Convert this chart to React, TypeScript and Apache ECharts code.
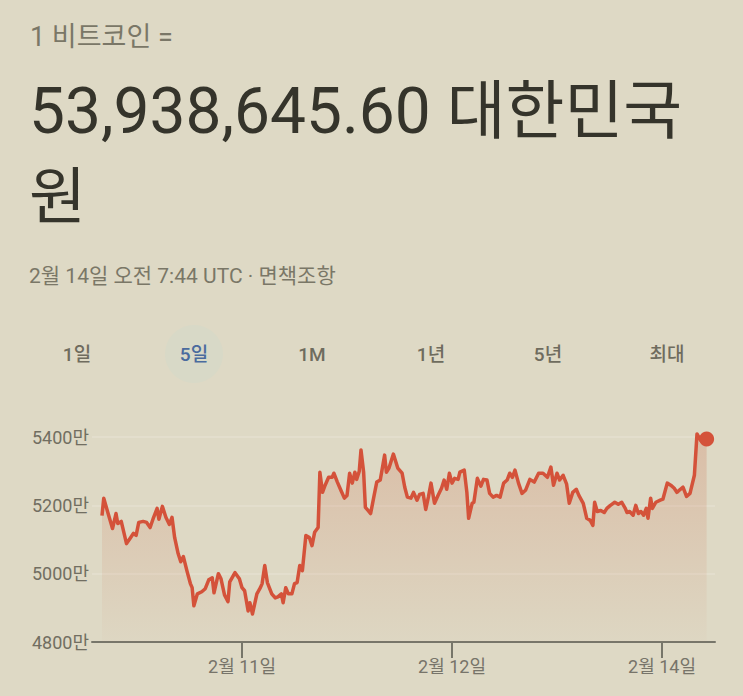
import React, { useEffect, useRef } from "react";
import * as echarts from "echarts";

// hours on a compressed session scale (2월 11일 = 24, 2월 12일 = 48, 2월 14일 = 72)
const times = [
  8.0, 8.2, 8.7, 9.2, 9.6, 9.8, 10.2, 10.8, 11.2, 11.6, 11.9, 12.2, 12.7, 13.1, 13.5, 13.9, 14.3, 14.5, 14.9, 15.3,
  15.7, 16.0, 16.3, 16.7, 17.0, 17.3, 17.7, 18.1, 18.3, 18.5, 18.9, 19.4, 19.8, 20.2, 20.6, 20.8, 21.3, 21.6, 22.0, 22.4,
  22.6, 23.2, 23.7, 24.0, 24.3, 24.7, 24.9, 25.2, 25.7, 26.1, 26.3, 26.6, 26.9, 27.4, 27.8, 28.1, 28.5, 28.7, 29.0, 29.3,
  29.7, 30.0, 30.3, 30.6, 30.9, 31.3, 31.7, 32.0, 32.3, 32.7, 32.9, 33.2, 33.5, 33.9, 34.3, 34.5, 34.9, 35.3, 35.7, 36.0,
  36.3, 36.6, 36.9, 37.1, 37.4, 37.6, 37.9, 38.1, 38.4, 38.7, 39.1, 39.4, 39.8, 40.3, 40.5, 40.8, 41.3, 41.8, 42.3, 42.6,
  42.9, 43.3, 43.6, 44.0, 44.3, 44.7, 45.0, 45.3, 45.6, 46.0, 46.4, 46.8, 47.1, 47.4, 47.7, 48.0, 48.3, 48.7, 48.9, 49.4,
  49.7, 49.9, 50.3, 50.5, 50.9, 51.3, 51.6, 52.0, 52.3, 52.7, 53.1, 53.5, 53.9, 54.3, 54.6, 54.9, 55.2, 55.6, 56.0, 56.4,
  56.9, 57.4, 57.9, 58.4, 58.9, 59.3, 59.6, 60.0, 60.3, 60.7, 61.1, 61.4, 61.8, 62.2, 62.5, 63.0, 63.4, 63.8, 64.1, 64.3,
  64.6, 65.0, 65.4, 65.7, 66.1, 66.6, 67.0, 67.4, 67.8, 68.0, 68.3, 68.7, 69.0, 69.3, 69.6, 69.9, 70.2, 70.4, 70.7, 70.9,
  71.3, 71.8, 72.1, 72.6, 73.0, 73.4, 73.7, 74.1, 74.4, 74.8, 75.2, 75.7, 76.0, 76.4, 76.8, 77.1,
];

// price in 만 원
const prices = [
  5170, 5221, 5176, 5132, 5176, 5147, 5153, 5088, 5103, 5118, 5112, 5150, 5153, 5150, 5135, 5165, 5191, 5159, 5197, 5165,
  5144, 5165, 5106, 5059, 5035, 5050, 5009, 4971, 4959, 4906, 4941, 4947, 4956, 4982, 4988, 4944, 5000, 4985, 4938, 4918,
  4976, 5003, 4985, 4959, 4950, 4891, 4915, 4882, 4941, 4959, 4971, 5024, 4974, 4941, 4929, 4932, 4941, 4915, 4959, 4941,
  4941, 4971, 4974, 5024, 5009, 5112, 5106, 5082, 5121, 5135, 5297, 5238, 5259, 5282, 5282, 5294, 5268, 5244, 5221, 5229,
  5294, 5265, 5297, 5276, 5300, 5362, 5297, 5194, 5185, 5176, 5229, 5268, 5274, 5347, 5297, 5309, 5350, 5309, 5294, 5253,
  5224, 5221, 5238, 5215, 5232, 5235, 5188, 5224, 5265, 5206, 5229, 5250, 5274, 5247, 5294, 5265, 5279, 5276, 5297, 5303,
  5238, 5162, 5206, 5209, 5279, 5256, 5276, 5274, 5235, 5224, 5229, 5224, 5265, 5274, 5294, 5282, 5303, 5265, 5235, 5244,
  5276, 5268, 5294, 5294, 5282, 5312, 5259, 5294, 5274, 5288, 5262, 5206, 5238, 5247, 5229, 5206, 5162, 5156, 5141, 5209,
  5182, 5185, 5179, 5191, 5200, 5209, 5203, 5209, 5191, 5179, 5182, 5171, 5200, 5176, 5182, 5171, 5191, 5162, 5221, 5191,
  5209, 5215, 5218, 5265, 5259, 5250, 5238, 5247, 5253, 5226, 5235, 5288, 5409, 5391, 5397, 5394,
];

const tickHours = [24, 48, 72];
const tickLabels = ["2월 11일", "2월 12일", "2월 14일"];
const yTicks = [4800, 5000, 5200, 5400];
const rangeTabs = ["1일", "5일", "1M", "1년", "5년", "최대"];
const selectedTab = "5일";

const headerLine = "1 비트코인 =";
const priceLine = "53,938,645.60 대한민국";
const priceLine2 = "원";
const dateLine = "2월 14일 오전 7:44 UTC · 면책조항";

const FONT = 'Roboto, "Noto Sans CJK KR", "Noto Sans", sans-serif';
const BG = "#ded9c5";
const LINE = "#d4523a";

export default function App() {
  const ref = useRef<HTMLDivElement>(null);

  useEffect(() => {
    if (!ref.current) return;
    const chart = echarts.init(ref.current, null, { renderer: "svg" });
    const data = times.map((t, i) => [t, prices[i]]);
    const last = data[data.length - 1];

    const tabX = [77, 194, 312, 431, 548, 667];
    const tabGraphics: any[] = [];
    rangeTabs.forEach((t, i) => {
      if (t === selectedTab) {
        tabGraphics.push({
          type: "circle",
          shape: { cx: tabX[i], cy: 354, r: 29 },
          style: { fill: "#d8d9c7" },
        });
      }
      tabGraphics.push({
        type: "text",
        x: tabX[i],
        y: 354,
        style: {
          text: t,
          font: `500 19px ${FONT}`,
          fill: t === selectedTab ? "#4a6b9e" : "#6f6c5e",
          textAlign: "center",
          textVerticalAlign: "middle",
        },
      });
    });

    chart.setOption({
      animation: false,
      backgroundColor: BG,
      textStyle: { fontFamily: FONT },
      graphic: [
        {
          type: "text",
          x: 30,
          y: 37,
          style: { text: headerLine, font: `27px ${FONT}`, fill: "#7a7767", textVerticalAlign: "middle" },
        },
        {
          type: "text",
          x: 29,
          y: 111,
          style: { text: priceLine, font: `64px ${FONT}`, fill: "#35342b", textVerticalAlign: "middle" },
        },
        {
          type: "text",
          x: 29,
          y: 197,
          style: { text: priceLine2, font: `62px ${FONT}`, fill: "#35342b", textVerticalAlign: "middle" },
        },
        {
          type: "text",
          x: 29,
          y: 276,
          style: { text: dateLine, font: `21px ${FONT}`, fill: "#7a7767", textVerticalAlign: "middle" },
        },
        ...tabGraphics,
      ],
      grid: { left: 92, right: 28, top: 437, bottom: 54, containLabel: false },
      xAxis: {
        type: "value",
        min: 24 - 150 / 8.75,
        max: 24 + 473 / 8.75,
        axisLine: { show: true, lineStyle: { color: "#77766a", width: 2 } },
        axisTick: {
          show: true,
          customValues: tickHours,
          length: 16,
          lineStyle: { color: "#77766a", width: 2 },
        },
        axisLabel: {
          customValues: tickHours,
          formatter: (v: number) => {
            const i = tickHours.indexOf(Math.round(v));
            return i >= 0 ? tickLabels[i] : "";
          },
          margin: 15,
          fontSize: 18,
          color: "#77746a",
          fontFamily: FONT,
        },
        splitLine: { show: false },
      },
      yAxis: {
        type: "value",
        min: yTicks[0],
        max: yTicks[yTicks.length - 1],
        interval: 200,
        axisLine: { show: false },
        axisTick: { show: false },
        axisLabel: {
          formatter: (v: number) => `${v}만`,
          margin: 3,
          fontSize: 18,
          color: "#716e61",
          fontFamily: FONT,
        },
        splitLine: { lineStyle: { color: "rgba(255,255,255,0.2)", width: 1.5 } },
      },
      series: [
        {
          type: "line",
          data,
          showSymbol: false,
          clip: false,
          lineStyle: { color: LINE, width: 3.5, join: "round" },
          areaStyle: {
            color: new echarts.graphic.LinearGradient(0, 0, 0, 1, [
              { offset: 0, color: "rgba(204,108,76,0.36)" },
              { offset: 1, color: "rgba(204,108,76,0.03)" },
            ]),
          },
          z: 3,
        },
        {
          type: "scatter",
          data: [last],
          symbolSize: 15,
          itemStyle: { color: LINE, opacity: 1 },
          clip: false,
          z: 4,
        },
      ],
    });
    return () => chart.dispose();
  }, []);

  return (
    <div
      ref={ref}
      style={{ position: "fixed", left: 0, top: 0, width: 743, height: 696, background: BG }}
    />
  );
}
